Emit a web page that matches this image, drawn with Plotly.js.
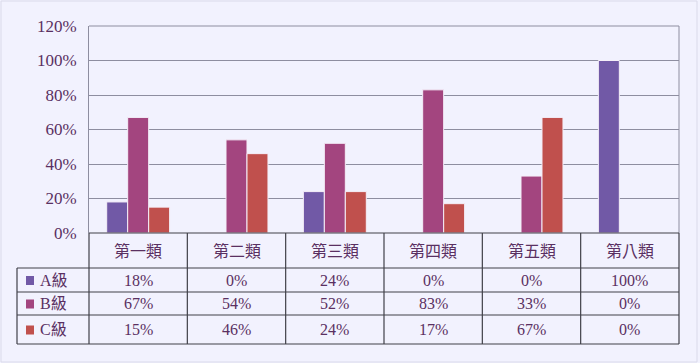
<!DOCTYPE html>
<html><head><meta charset="utf-8">
<script src="https://cdn.plot.ly/plotly-3.0.1.min.js"></script>
<style>html,body{margin:0;padding:0;background:#F2F2FE;}</style>
</head><body>
<div id="chart" style="width:700px;height:363px;"></div>
<script>
const categories = ['第一類','第二類','第三類','第四類','第五類','第八類'];
const seriesNames = ['A級','B級','C級'];
const seriesA = [0.18, 0.00, 0.24, 0.00, 0.00, 1.00];
const seriesB = [0.67, 0.54, 0.52, 0.83, 0.33, 0.00];
const seriesC = [0.15, 0.46, 0.24, 0.17, 0.67, 0.00];
const yTicks = [0, 0.2, 0.4, 0.6, 0.8, 1.0, 1.2];

const seriesValues = [seriesA, seriesB, seriesC];
const colors = ['#7159A6', '#A3457F', '#C0504D'];
const textColor = '#5A3062';
const fontFam = '"Liberation Serif", "DejaVu Serif", "Noto Sans CJK TC", serif';

const traces = seriesValues.map((vals, i) => ({
  type: 'bar', x: categories, y: vals, name: seriesNames[i],
  marker: {color: colors[i], line: {color: '#F4EEF8', width: 1}},
  hoverinfo: 'x+y+name'
}));

const W = 700, H = 363;
const L = 89, R = 679, T = 26, B = 233;
const pw = R - L, ph = B - T;
const px = x => (x - L) / pw;
const py = y => (B - y) / ph;
const rowLines = [233, 268, 292, 315, 344];
const tableLeft = 17;
const lineColor = '#404048';

const shapes = [];
shapes.push({type:'line', xref:'paper', yref:'paper', x0:0, x1:1, y0:1, y1:1, line:{color:'#8E8EA0', width:1}});
shapes.push({type:'line', xref:'paper', yref:'paper', x0:1, x1:1, y0:0, y1:1, line:{color:'#8E8EA0', width:1}});
shapes.push({type:'line', xref:'paper', yref:'paper', x0:0, x1:1, y0:py(rowLines[0]), y1:py(rowLines[0]), line:{color:lineColor, width:1.2}});
for (let k = 1; k < rowLines.length; k++) {
  shapes.push({type:'line', xref:'paper', yref:'paper', x0:px(tableLeft), x1:1, y0:py(rowLines[k]), y1:py(rowLines[k]), line:{color:lineColor, width:1.2}});
}
for (let c = 0; c <= categories.length; c++) {
  const xb = c / categories.length;
  shapes.push({type:'line', xref:'paper', yref:'paper', x0:xb, x1:xb, y0:py(rowLines[0]), y1:py(rowLines[rowLines.length-1]), line:{color:lineColor, width:1.2}});
}
shapes.push({type:'line', xref:'paper', yref:'paper', x0:px(tableLeft), x1:px(tableLeft), y0:py(rowLines[1]), y1:py(rowLines[rowLines.length-1]), line:{color:lineColor, width:1.2}});
shapes.push({type:'rect', xref:'paper', yref:'paper', x0:px(1), x1:px(697), y0:py(362), y1:py(1), line:{color:'#DADAEA', width:1}});

const annotations = [];
categories.forEach((c, j) => {
  annotations.push({xref:'x', yref:'paper', x:c, y:py((rowLines[0]+rowLines[1])/2), text:c, showarrow:false,
    font:{size:16, color:textColor, family:fontFam}, xanchor:'center', yanchor:'middle'});
});
seriesValues.forEach((vals, i) => {
  const ycPx = (rowLines[i+1] + rowLines[i+2]) / 2;
  const yc = py(ycPx);
  // legend key square
  shapes.push({type:'rect', xref:'paper', yref:'paper', x0:px(26), x1:px(34), y0:py(ycPx + 5), y1:py(ycPx - 4),
    fillcolor: colors[i], line:{width:0}});
  annotations.push({xref:'paper', yref:'paper', x:px(38), y:yc, xanchor:'left', yanchor:'middle', showarrow:false,
    text: seriesNames[i], font:{size:16, color:textColor, family:fontFam}});
  vals.forEach((v, j) => {
    annotations.push({xref:'x', yref:'paper', x:categories[j], y:yc, xanchor:'center', yanchor:'middle', showarrow:false,
      text: Math.round(v*100) + '%', font:{size:16, color:textColor, family:fontFam}});
  });
});

const layout = {
  width: W, height: H,
  margin: {l: L, r: W - R, t: T, b: H - B, pad: 0},
  paper_bgcolor: '#F2F2FE', plot_bgcolor: '#F2F2FE',
  showlegend: false,
  barmode: 'group', bargap: 0.36, bargroupgap: 0,
  xaxis: {type:'category', showticklabels:false, ticks:'', showgrid:false, zeroline:false,
    showline:false, fixedrange:true},
  yaxis: {range:[0, 1.2], tickvals:yTicks, tickformat:'.0%', showgrid:true, gridcolor:'#8E8EA0', gridwidth:1,
    zeroline:false, showline:true, linecolor:'#8E8EA0', linewidth:1, ticks:'', ticklabelstandoff:8,
    tickfont:{size:17, color:textColor, family:fontFam}, fixedrange:true},
  font:{family:fontFam, color:textColor},
  shapes: shapes, annotations: annotations
};
Plotly.newPlot('chart', traces, layout, {displayModeBar:false, staticPlot:true});
</script>
</body></html>
